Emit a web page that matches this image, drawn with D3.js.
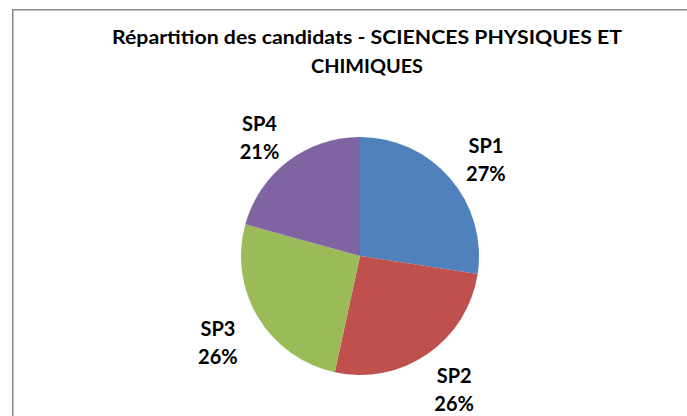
<!DOCTYPE html>
<html><head><meta charset="utf-8">
<script src="https://cdn.jsdelivr.net/npm/d3@7"></script>
<style>html,body{margin:0;padding:0;background:#fff;overflow:hidden}svg{display:block}</style>
</head><body>
<svg id="chart" width="687" height="416"></svg>
<script>
const titleLines = ["Répartition des candidats - SCIENCES PHYSIQUES ET", "CHIMIQUES"];
const categories = ["SP1", "SP2", "SP3", "SP4"];
const values = [27.4, 26.0, 25.9, 20.7];
const colors = ["#4F81BD", "#C0504D", "#9BBB59", "#8064A2"];

const W = 687, H = 416;
const svg = d3.select("#chart");
const font = "Lato, 'Open Sans', sans-serif";

svg.append("rect").attr("x", 12.75).attr("y", 9.75).attr("width", 720).attr("height", 440)
  .attr("fill", "#fff").attr("stroke", "#898989").attr("stroke-width", 1.5);

// Title
const titleWidths = [510, 112];
const title = svg.append("text").attr("text-anchor", "middle")
  .attr("font-family", font).attr("font-weight", "bold").attr("font-size", 19).attr("fill", "#000");
title.selectAll("tspan").data(titleLines).join("tspan")
  .attr("x", 367).attr("y", (d, i) => 44 + i * 29)
  .attr("textLength", (d, i) => titleWidths[i]).attr("lengthAdjust", "spacingAndGlyphs")
  .text(d => d);

const cx = 360, cy = 256, r = 119;
const total = d3.sum(values);
const pie = d3.pie().sort(null).value(d => d)(values);
const arc = d3.arc().innerRadius(0).outerRadius(r);
const g = svg.append("g").attr("transform", `translate(${cx},${cy})`);
g.selectAll("path").data(pie).join("path")
  .attr("d", arc).attr("fill", (d, i) => colors[i]);

// Labels outside end (elliptical placement around the pie)
const fsL = 20, lh = 28;
const Rx = 166, Ry = 156, yOff = 6;
pie.forEach((d, i) => {
  const a = (d.startAngle + d.endAngle) / 2;
  const dx = Math.sin(a), dy = -Math.cos(a);
  const lx = cx + dx * Rx, ly = cy + yOff + dy * Ry;
  const lines = [categories[i], Math.round(values[i] / total * 100) + "%"];
  svg.append("text").attr("text-anchor", "middle")
    .attr("font-family", font).attr("font-weight", "bold").attr("font-size", fsL).attr("fill", "#000")
    .selectAll("tspan").data(lines).join("tspan")
    .attr("x", lx).attr("y", (s, j) => ly - 7 + j * lh).text(s => s);
});
</script>
</body></html>
